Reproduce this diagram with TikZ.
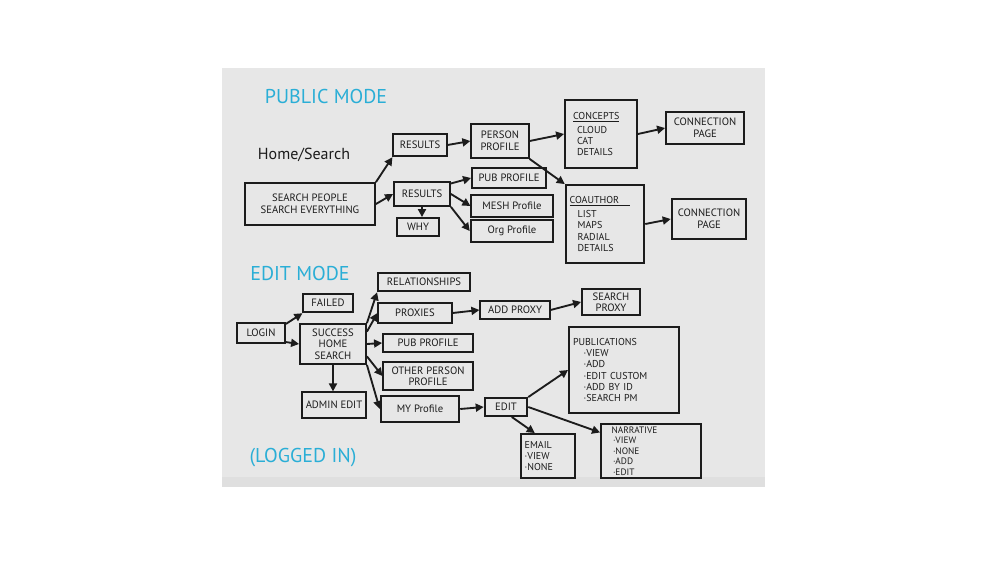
\documentclass[tikz,border=0pt]{standalone}
\usepackage{fontspec}
\setmainfont{PT Sans}
\usepackage{xcolor}
\usepackage{tikz}
\usetikzlibrary{arrows.meta, positioning}
\definecolor{BoardGray}{HTML}{E7E7E7}
\definecolor{LedgeGray}{HTML}{DFDFDF}
\definecolor{MarkerCyan}{HTML}{2AAED6}
\definecolor{MarkerInk}{HTML}{1C1C1C}

\begin{document}
\begin{tikzpicture}[
    x=0.75pt, y=-0.75pt,
    every node/.style={font=\fontsize{8}{8.6}\selectfont, text=MarkerInk},
    card/.style={
      draw=MarkerInk, line width=1.4pt, inner sep=1pt, align=center
    },
    listcard/.style={
      card, align=left, inner xsep=3pt, inner ysep=1pt,
      text width=#1, font=\fontsize{7.5}{8.4}\selectfont
    },
    heading/.style={text=MarkerCyan, font=\fontsize{15}{16}\selectfont},
    arr/.style={
      draw=MarkerInk, line width=1.4pt,
      -{Triangle[length=6pt, width=6pt]}
    }
  ]
    \useasboundingbox (0,0) rectangle (1000,563);
    \fill[BoardGray] (222,68) rectangle (765,487);
    \fill[LedgeGray] (222,477) rectangle (765,487);

    \node[heading] (pubmode) at (326,97) {PUBLIC MODE};
    \node[font=\fontsize{12}{13}\selectfont] (home) at (304,155) {Home/Search};
    \node[card, minimum width=97.5pt, minimum height=31.5pt] (search) at (310,204) {SEARCH PEOPLE\\SEARCH EVERYTHING};
    \node[card, minimum width=40pt, minimum height=17pt] (res1) at (420,145) {RESULTS};
    \node[card, minimum width=42pt, minimum height=18pt] (res2) at (422,194) {RESULTS};
    \node[card, minimum width=31pt, minimum height=13.5pt] (why) at (418,227) {WHY};
    \node[card, minimum width=43pt, minimum height=25.5pt] (person) at (500,141) {PERSON\\PROFILE};
    \node[card, minimum width=55.5pt, minimum height=15pt] (pubp) at (509,178) {PUB PROFILE};
    \node[card, minimum width=61pt, minimum height=16.5pt] (mesh) at (512,206) {MESH Profile};
    \node[card, minimum width=62pt, minimum height=16.5pt] (org) at (512,231) {Org Profile};
    \node[listcard=48pt, minimum height=51pt] (concepts) at (601,134) {\hspace{3pt}\underline{CONCEPTS}\\[2pt]\hspace{6pt}CLOUD\\\hspace{6pt}CAT\\\hspace{6pt}DETAILS};
    \node[card, minimum width=58.5pt, minimum height=24pt] (conn1) at (705,128) {CONNECTION\\PAGE};
    \node[listcard=53pt, minimum height=58.5pt] (coauthor) at (605,224) {\underline{COAUTHOR\hspace{8pt}}\\[2pt]\hspace{6pt}LIST\\\hspace{6pt}MAPS\\\hspace{6pt}RADIAL\\\hspace{6pt}DETAILS};
    \node[card, minimum width=56pt, minimum height=30pt] (conn2) at (709,219) {CONNECTION\\PAGE};

    \draw[arr] (search.north east) -- (res1.south west);
    \draw[arr] (search.east) -- (res2.west);
    \draw[arr] (res1.east) -- (person.west);
    \draw[arr] (res2.20) -- (pubp.west);
    \draw[arr] (res2.east) -- (mesh.west);
    \draw[arr] (res2.south east) -- (org.west);
    \draw[arr] (res2.south) -- (res2.south |- why.north);
    \draw[arr] (person.east) -- (concepts.west);
    \draw[arr] (person.south east) -- (coauthor.north west);
    \draw[arr] (concepts.east) -- (conn1.west);
    \draw[arr] (coauthor.east) -- (conn2.west);

    \node[heading] (editmode) at (300,273) {EDIT MODE};
    \node[card, minimum width=36pt, minimum height=15pt] (login) at (261,333) {LOGIN};
    \node[card, minimum width=37pt, minimum height=14pt] (failed) at (328,303) {FAILED};
    \node[card, minimum width=49.5pt, minimum height=30pt] (success) at (333,344) {SUCCESS\\HOME\\SEARCH};
    \node[card, minimum width=48pt, minimum height=19pt] (admin) at (334,405) {ADMIN EDIT};
    \node[card, minimum width=69pt, minimum height=14pt] (rel) at (424,282) {RELATIONSHIPS};
    \node[card, minimum width=55pt, minimum height=15pt] (proxies) at (415,313) {PROXIES};
    \node[card, minimum width=67.5pt, minimum height=14pt] (pub2) at (428,343) {PUB PROFILE};
    \node[card, minimum width=67pt, minimum height=21pt] (other) at (428,376) {OTHER PERSON\\PROFILE};
    \node[card, minimum width=59pt, minimum height=20pt] (myprof) at (420,409) {MY Profile};
    \node[card, minimum width=52pt, minimum height=14pt] (addproxy) at (515,310) {ADD PROXY};
    \node[card, minimum width=43.5pt, minimum height=20pt] (srchproxy) at (611,302) {SEARCH\\PROXY};
    \node[listcard=76.5pt, minimum height=64pt] (pubs) at (624,370) {PUBLICATIONS\\\hspace{8pt}·VIEW\\\hspace{8pt}·ADD\\\hspace{8pt}·EDIT CUSTOM\\\hspace{8pt}·ADD BY ID\\\hspace{8pt}·SEARCH PM};
    \node[card, minimum width=32pt, minimum height=13.5pt] (edit) at (506,407) {EDIT};
    \node[listcard=35pt, minimum height=33pt] (email) at (548,456) {EMAIL\\·VIEW\\·NONE};
    \node[listcard=69pt, minimum height=41pt, font=\fontsize{7}{7.8}\selectfont] (narr) at (651,451) {\hspace{5pt}NARRATIVE\\\hspace{6pt}·VIEW\\\hspace{6pt}·NONE\\\hspace{6pt}·ADD\\\hspace{6pt}·EDIT};
    \node[heading] (logged) at (303,458) {(LOGGED IN)};

    \draw[arr] (login.20) -- (failed.south west);
    \draw[arr] (login.-20) -- (success.west);
    \draw[arr] (success.south) -- (success.south |- admin.north);
    \draw[arr] (success.north east) -- (rel.south west);
    \draw[arr] (success.20) -- (proxies.west);
    \draw[arr] (success.east) -- (pub2.west);
    \draw[arr] (success.-20) -- (other.west);
    \draw[arr] (success.south east) -- (myprof.west);
    \draw[arr] (proxies.east) -- (addproxy.west);
    \draw[arr] (addproxy.east) -- (srchproxy.west);
    \draw[arr] (myprof.east) -- (edit.west);
    \draw[arr] (edit.north east) -- (pubs.west);
    \draw[arr] (edit.-60) -- (email.120);
    \draw[arr] (edit.east) -- (narr.160);
  \end{tikzpicture}
\end{document}
